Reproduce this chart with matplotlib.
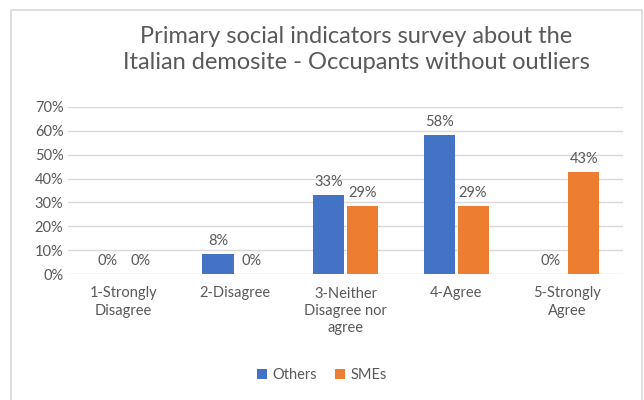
import matplotlib.pyplot as plt
import numpy as np
from matplotlib.patches import Rectangle

categories = ["1-Strongly\nDisagree", "2-Disagree", "3-Neither\nDisagree nor\nagree", "4-Agree", "5-Strongly\nAgree"]
others = [0.0, 8.3, 33.3, 58.3, 0.0]
smes = [0.0, 0.0, 28.6, 28.6, 42.9]

plt.rcParams['font.family'] = ['Lato', 'DejaVu Sans']
grey = "#595959"

fig = plt.figure(figsize=(6.44, 4.0), dpi=100)
fig.patches.append(Rectangle((0.017, -0.01), 0.98, 0.985, transform=fig.transFigure,
                             fill=False, edgecolor="#D9D9D9", linewidth=1.2))
ax = fig.add_axes([0.106, 0.315, 0.861, 0.4175])

x = np.arange(len(categories))
w = 0.28
b1 = ax.bar(x - w / 2 - 0.01, others, w, color="#4472C4", label="Others")
b2 = ax.bar(x + w / 2 + 0.01, smes, w, color="#ED7D31", label="SMEs")

for bars, vals in ((b1, others), (b2, smes)):
    for bar, v in zip(bars, vals):
        ax.text(bar.get_x() + bar.get_width() / 2, v + 2.5, f"{round(v)}%",
                ha="center", va="bottom", fontsize=10.5, color=grey)

ax.set_ylim(0, 70)
ax.set_xlim(-0.5, len(categories) - 0.5)
ax.set_yticks(range(0, 71, 10))
ax.set_yticklabels([f"{t}%" for t in range(0, 71, 10)])
ax.set_xticks(x)
ax.set_xticklabels(categories, va="top", linespacing=1.3)
ax.tick_params(axis="both", length=0, colors=grey, labelsize=10.5)
ax.tick_params(axis="x", pad=9)
ax.grid(axis="y", color="#D9D9D9", linewidth=1)
ax.set_axisbelow(True)
for s in ax.spines.values():
    s.set_visible(False)

fig.text(0.553, 0.876, "Primary social indicators survey about the\nItalian demosite - Occupants without outliers",
         ha="center", va="center", fontsize=17, color=grey, linespacing=1.3)

fig.legend(handles=[b1, b2], loc="center", bbox_to_anchor=(0.5, 0.063), ncol=2, frameon=False,
           fontsize=10.5, handlelength=0.7, handleheight=0.7, columnspacing=1.2, handletextpad=0.4,
           labelcolor=grey)

fig.savefig("out.png", dpi=100)
